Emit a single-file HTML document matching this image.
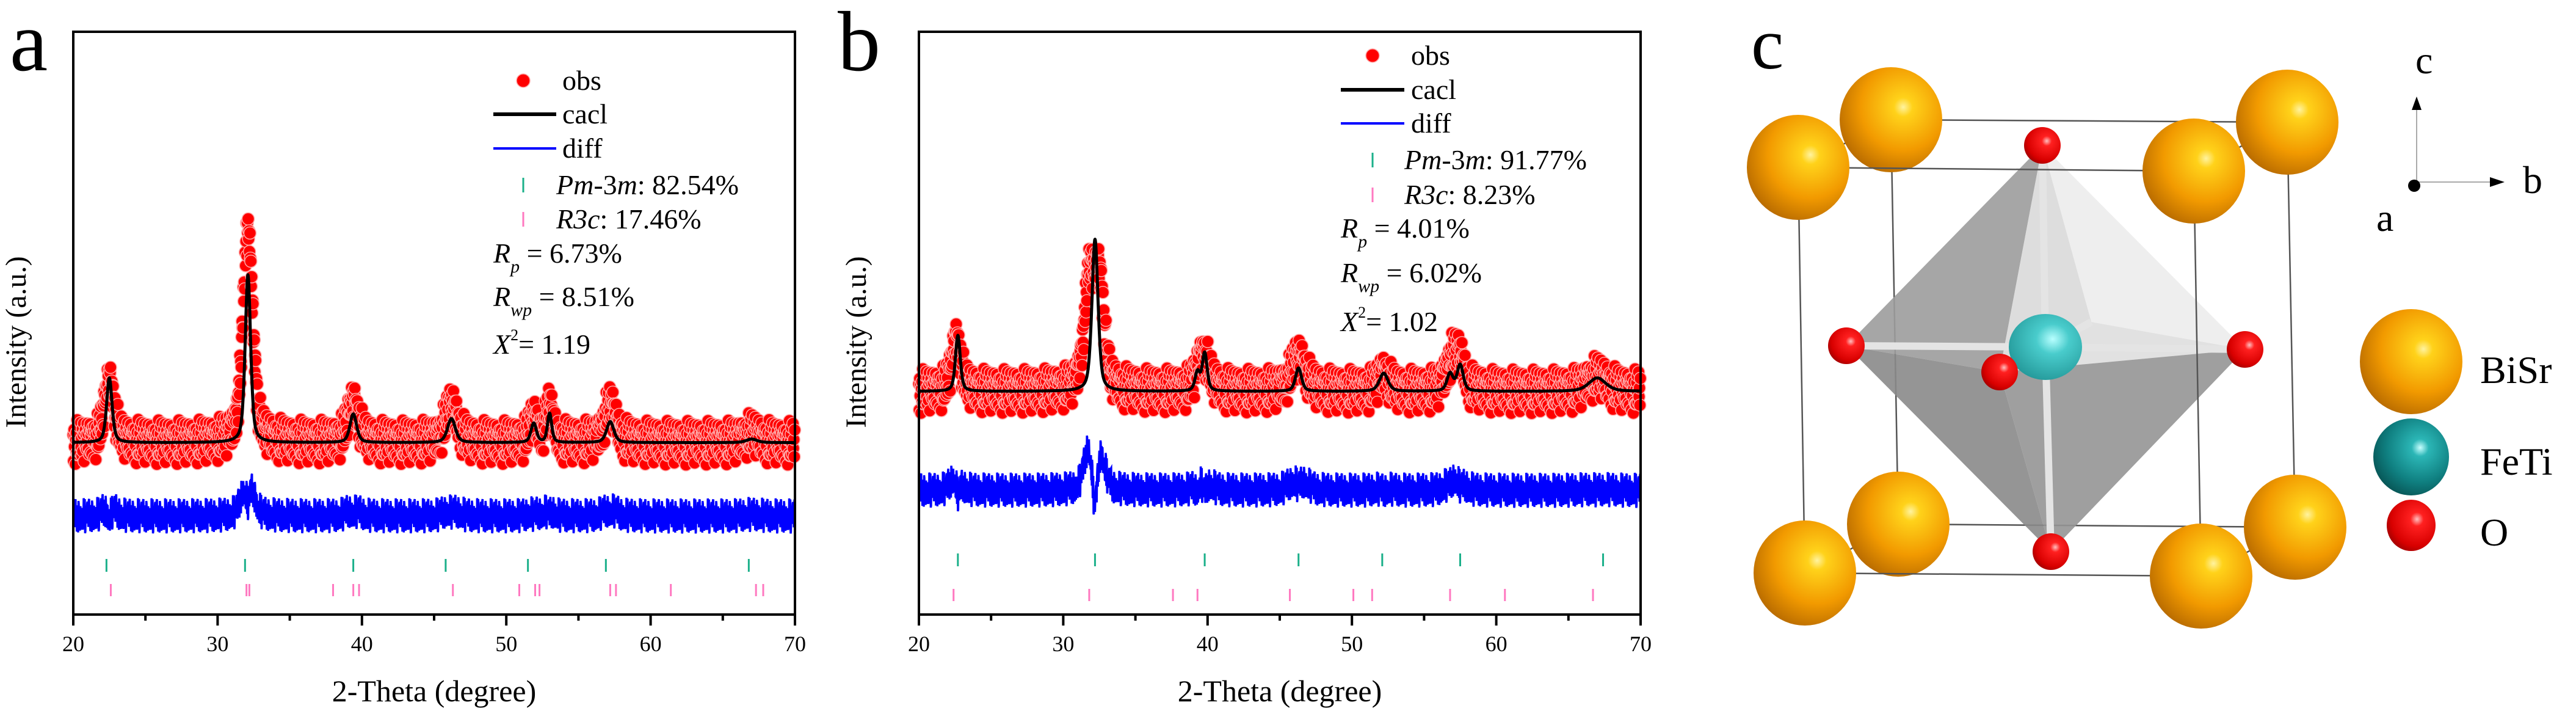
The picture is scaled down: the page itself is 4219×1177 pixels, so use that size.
<!DOCTYPE html>
<html><head><meta charset="utf-8"><style>
html,body{margin:0;padding:0;background:#fff;}
svg, svg text{font-family:"Liberation Serif","Times New Roman","DejaVu Serif",serif;}
</style></head><body>
<svg id="fig" width="4219" height="1172" viewBox="0 0 4219 1172" xmlns="http://www.w3.org/2000/svg" font-family="Liberation Serif, serif">
<defs>
<radialGradient id="gOr" cx="0.62" cy="0.38" r="0.75"><stop offset="0" stop-color="#fff3a0"/><stop offset="0.12" stop-color="#ffd21a"/><stop offset="0.55" stop-color="#f29a00"/><stop offset="1" stop-color="#a85e00"/></radialGradient>
<radialGradient id="gTe" cx="0.62" cy="0.38" r="0.75"><stop offset="0" stop-color="#c8ffff"/><stop offset="0.15" stop-color="#2bb6b6"/><stop offset="0.6" stop-color="#0f7f80"/><stop offset="1" stop-color="#054848"/></radialGradient>
<radialGradient id="gCy" cx="0.6" cy="0.38" r="0.75"><stop offset="0" stop-color="#b8ffff"/><stop offset="0.3" stop-color="#49cccc"/><stop offset="1" stop-color="#1d8f90"/></radialGradient>
<radialGradient id="gRe" cx="0.62" cy="0.38" r="0.75"><stop offset="0" stop-color="#ffc0c0"/><stop offset="0.18" stop-color="#ff2020"/><stop offset="0.7" stop-color="#d80000"/><stop offset="1" stop-color="#8a0000"/></radialGradient>
</defs>
<g id="panelA"></g>
<g id="panelB"></g>
<g id="panelC"></g>
</svg>
<script>
// ---------- data ----------
const xTicks=[20,30,40,50,60,70];
const xMinor=[25,35,45,55,65];
// panel a
const aCalcPos=[22.5,32.1,39.4,46.2,51.9,53.0,57.2,67.0];
const aCalcH=[11.1,28.8,4.9,4.1,3.3,5.0,3.6,0.6];
const aCalcW=[0.45,0.45,0.55,0.65,0.45,0.35,0.6,0.9];
const aObsPos=[22.5,32.1,39.4,46.2,51.9,53.0,57.2,67.0];
const aObsH=[10.5,36.5,6.8,6.3,4.0,6.0,6.3,1.5];
const aObsW=[0.8,0.8,0.9,1.0,0.7,0.6,0.95,1.2];
const aBase=29.5, aDiffBase=16.9;
const aGreen=[22.3,31.9,39.4,45.8,51.5,56.9,66.8];
const aPink=[22.6,32.0,32.2,38.0,39.4,39.8,46.3,50.9,52.0,52.3,57.2,57.6,61.4,67.3,67.8];
// panel b
const bCalcPos=[22.7,32.2,39.3,39.8,46.3,52.2,56.8,57.5,67.0];
const bCalcH=[9.6,26.1,3.2,6.5,4.0,3.1,3.0,4.5,2.3];
const bCalcW=[0.4,0.5,0.4,0.4,0.5,0.7,0.5,0.5,1.4];
const bObsPos=[22.6,31.8,32.5,39.7,46.3,52.2,56.9,57.5,67.0];
const bObsH=[8.8,18,18,6.4,5.8,3.0,5.0,4.6,2.5];
const bObsW=[0.75,0.8,0.8,1.0,1.2,0.9,0.9,0.8,1.6];
const bBase=38.3, bDiffBase=21.3;
const bGreen=[22.7,32.2,39.8,46.3,52.1,57.5,67.4];
const bPink=[22.4,31.8,37.6,39.3,45.7,50.1,51.4,56.8,60.6,66.7,70.0];
const jit=[0.3,-0.8,0.9,-0.2,0.6,-1,0.1,0.7,-0.5,0.95,-0.7,0.2,-0.9,0.5,0.8,-0.3,-0.6,1,-0.1,0.4,-0.85,0.65,-0.4,0.15,0.9,-0.95,0.35,-0.15,0.75,-0.55,0.05,-0.75,0.85,-0.25,0.55,-0.65,0.45,-0.9,0.25,0.7,-0.45,-0.05,0.6,-0.8,0.3,0.95,-0.35];

const NS="http://www.w3.org/2000/svg";
function mk(tag,attrs,parent,text){const e=document.createElementNS(NS,tag);for(const k in attrs)e.setAttribute(k,attrs[k]);if(text!==undefined)e.textContent=text;parent.appendChild(e);return e;}
function pv(x,p,h,w){const d=(x-p)/w;return h*(0.5/(1+4*d*d)+0.5*Math.exp(-2.7726*d*d));}
function prof(x,P,H,W){let s=0;for(let i=0;i<P.length;i++)s+=pv(x,P[i],H[i],W[i]);return s;}

function panel(g,o){
  const X0=o.x0,X1=o.x1,Y0=52,Y1=1006;
  const sx=v=>X0+(v-20)/50*(X1-X0);
  const sy=v=>Y1-v/100*(Y1-Y0);
  const og=mk('g',{},g);
  
  
  let i=0;
  for(let x=20;x<=70.0001;x+=0.03,i++){
    const v=o.base+prof(x,o.oP,o.oH,o.oW)+jit[i%jit.length]*3.0+jit[(i*5)%jit.length]*0.9;
    const c=mk('circle',{cx:sx(x).toFixed(1),cy:sy(v).toFixed(1),r:10,fill:'#f00',stroke:'#ffa8a8','stroke-width':1.5},og);
    
    
  }
  let pts=[];
  for(let x=20;x<=70.0001;x+=0.02)pts.push(sx(x).toFixed(1)+','+sy(o.base+prof(x,o.cP,o.cH,o.cW)).toFixed(1));
  const cl=mk('polyline',{points:pts.join(' '),fill:'none',stroke:'#000','stroke-width':5,'stroke-linejoin':'round'},g);
  
  
  pts=[];i=0;
  for(let x=20;x<=70.0001;x+=0.02,i++){
    const d=prof(x,o.oP,o.oH,o.oW)-prof(x,o.cP,o.cH,o.cW);
    const v=o.dbase+d*o.gain+jit[(i*7)%jit.length]*3.0;
    pts.push(sx(x).toFixed(1)+','+sy(v).toFixed(1));
  }
  const dl=mk('polyline',{points:pts.join(' '),fill:'none',stroke:'#0000ff','stroke-width':3.5},g);
  
  
  o.green.forEach(t=>{const e=mk('line',{x1:sx(t),x2:sx(t),y1:o.gy,y2:o.gy+21,stroke:'#1bb08a','stroke-width':3},g);
    });
  o.pink.forEach(t=>{const e=mk('line',{x1:sx(t),x2:sx(t),y1:o.py,y2:o.py+20,stroke:'#ff78c0','stroke-width':3},g);
    });
  const fr=mk('rect',{x:X0,y:Y0,width:X1-X0,height:Y1-Y0,fill:'none',stroke:'#000','stroke-width':4},g);
  
  xTicks.forEach(t=>{const e=mk('line',{x1:sx(t),x2:sx(t),y1:Y1,y2:Y1+18,stroke:'#000','stroke-width':4},g);
    
    const l=mk('text',{x:sx(t),y:1066,'font-size':36,'text-anchor':'middle'},g,String(t));
    });
  xMinor.forEach(t=>{const e=mk('line',{x1:sx(t),x2:sx(t),y1:Y1,y2:Y1+10,stroke:'#000','stroke-width':4},g);
    });
  const xt=mk('text',{x:(X0+X1)/2,y:1148,'font-size':50,'text-anchor':'middle'},g,'2-Theta (degree)');
  
  const yt=mk('text',{x:0,y:0,'font-size':48,'text-anchor':'middle',transform:`translate(${o.ytx},560) rotate(-90)`},g,'Intensity (a.u.)');
  
  const pl=mk('text',{x:o.lblx,y:115,'font-size':140},g,o.label);
  
  const L=o.leg, lg=mk('g',{'font-size':46},g);
  
  mk('circle',{cx:L.sx,cy:L.y[0],r:11,fill:'#f00',stroke:'#ffa8a8','stroke-width':1.5},lg);
  mk('text',{x:L.tx,y:L.y[0]+15},lg,'obs');
  mk('line',{x1:L.lx0,x2:L.lx1,y1:L.y[1],y2:L.y[1],stroke:'#000','stroke-width':6},lg);
  mk('text',{x:L.tx,y:L.y[1]+15},lg,'cacl');
  mk('line',{x1:L.lx0,x2:L.lx1,y1:L.y[2],y2:L.y[2],stroke:'#0000ff','stroke-width':4},lg);
  mk('text',{x:L.tx,y:L.y[2]+15},lg,'diff');
  mk('line',{x1:L.sx,x2:L.sx,y1:L.y[3]-12,y2:L.y[3]+12,stroke:'#1bb08a','stroke-width':3},lg);
  let t=mk('text',{x:L.px,y:L.y[3]+15},lg);
  mk('tspan',{'font-style':'italic'},t,'Pm');mk('tspan',{},t,'-3');mk('tspan',{'font-style':'italic'},t,'m');mk('tspan',{},t,': '+o.pm);
  mk('line',{x1:L.sx,x2:L.sx,y1:L.y[4]-12,y2:L.y[4]+12,stroke:'#ff78c0','stroke-width':3},lg);
  t=mk('text',{x:L.px,y:L.y[4]+15},lg);
  mk('tspan',{'font-style':'italic'},t,'R3c');mk('tspan',{},t,': '+o.r3);
  t=mk('text',{x:L.lx0,y:L.y[5]+15},lg);
  mk('tspan',{'font-style':'italic'},t,'R');mk('tspan',{'font-style':'italic','font-size':30,dy:16},t,'p');mk('tspan',{dy:-16},t,' = '+o.rp);
  t=mk('text',{x:L.lx0,y:L.y[6]+15},lg);
  mk('tspan',{'font-style':'italic'},t,'R');mk('tspan',{'font-style':'italic','font-size':30,dy:16},t,'wp');mk('tspan',{dy:-16},t,' = '+o.rwp);
  t=mk('text',{x:L.lx0,y:L.y[7]+15},lg);
  mk('tspan',{'font-style':'italic'},t,'X');mk('tspan',{'font-size':26,dy:-22},t,'2');mk('tspan',{dy:22},t,'= '+o.chi);
}

panel(document.getElementById('panelA'),{x0:120,x1:1302,base:aBase,dbase:aDiffBase,gain:0.3,
  cP:aCalcPos,cH:aCalcH,cW:aCalcW,oP:aObsPos,oH:aObsH,oW:aObsW,green:aGreen,pink:aPink,gy:915,py:956,
  ytx:42,lblx:16,label:'a',pm:'82.54%',r3:'17.46%',rp:'6.73%',rwp:'8.51%',chi:'1.19',
  leg:{sx:857,tx:921,px:911,lx0:808,lx1:911,y:[132,187,243,303,359,415,486,564]}});
panel(document.getElementById('panelB'),{x0:1505,x1:2687,base:bBase,dbase:bDiffBase,gain:0.45,
  cP:bCalcPos,cH:bCalcH,cW:bCalcW,oP:bObsPos,oH:bObsH,oW:bObsW,green:bGreen,pink:bPink,gy:906,py:964,
  ytx:1418,lblx:1372,label:'b',pm:'91.77%',r3:'8.23%',rp:'4.01%',rwp:'6.02%',chi:'1.02',
  leg:{sx:2248,tx:2311,px:2300,lx0:2196,lx1:2300,y:[91,147,202,262,319,374,447,527]}});

// ---------- panel c ----------
const C=document.getElementById('panelC');
function named(e,n){return e;}
const fF=[[2945,274],[3593,280],[3605,943],[2956,938]];
const bF=[[3097,196],[3746,200],[3759,863],[3109,858]];
const edge=(a,b,n)=>named(mk('line',{x1:a[0],y1:a[1],x2:b[0],y2:b[1],stroke:'#555','stroke-width':2.5},C),n);
for(let k=0;k<4;k++)edge(bF[k],bF[(k+1)%4],'cell-edge-back');
for(let k=0;k<4;k++)edge(fF[k],bF[k],'cell-edge-side');
const sph=(x,y,rx,ry,f,n)=>named(mk('ellipse',{cx:x,cy:y,rx:rx,ry:ry,fill:f},C),n);
bF.forEach(p=>sph(p[0],p[1],84,86,'url(#gOr)','bisr-atom'));
const T=[3345,238],B=[3359,903],Lf=[3024,566],R=[3677,572],F=[3275,609],K=[3425,527],Z=[3350,568];
const face=(ps,c,n)=>named(mk('polygon',{points:ps.map(p=>p.join(',')).join(' '),fill:c,'fill-opacity':0.9},C),n);
face([T,K,R],'#ececec','octahedron-face');
face([T,Lf,F],'#9c9c9c','octahedron-face');
face([T,F,K],'#cfcfcf','octahedron-face');
face([T,K,R,F],'#dedede','octahedron-face');
face([Lf,F,B],'#8a8a8a','octahedron-face');
face([F,R,B],'#959595','octahedron-face');
[T,B,Lf,R,K,F].forEach(p=>named(mk('line',{x1:Z[0],y1:Z[1],x2:p[0],y2:p[1],stroke:'#e4e4e4','stroke-width':12},C),'fe-o-bond'));
sph(Z[0],Z[1],60,54,'url(#gCy)','feti-atom');
[T,B,Lf,R,F].forEach(p=>sph(p[0],p[1],30,30,'url(#gRe)','oxygen-atom'));
for(let k=0;k<4;k++)edge(fF[k],fF[(k+1)%4],'cell-edge-front');
fF.forEach(p=>sph(p[0],p[1],84,86,'url(#gOr)','bisr-atom'));
named(mk('text',{x:2868,y:112,'font-size':120},C,'c'),'panel-label');
const ax=mk('g',{},C);named(ax,'axis-indicator');
mk('line',{x1:3958,y1:298,x2:3958,y2:178,stroke:'#aaa','stroke-width':2},ax);
mk('polygon',{points:'3950,180 3966,180 3958,158',fill:'#000'},ax);
mk('line',{x1:3958,y1:298,x2:4080,y2:298,stroke:'#aaa','stroke-width':2},ax);
mk('polygon',{points:'4078,290 4078,306 4102,298',fill:'#000'},ax);
mk('circle',{cx:3954,cy:304,r:10,fill:'#000'},ax);
mk('text',{x:3956,y:120,'font-size':64},ax,'c');
mk('text',{x:4132,y:316,'font-size':64},ax,'b');
mk('text',{x:3892,y:378,'font-size':64},ax,'a');
sph(3949,592,84,86,'url(#gOr)','legend-bisr-swatch');
sph(3949,748,62,63,'url(#gTe)','legend-feti-swatch');
sph(3949,860,40,42,'url(#gRe)','legend-o-swatch');
named(mk('text',{x:4062,y:627,'font-size':64},C,'BiSr'),'legend-bisr-label');
named(mk('text',{x:4062,y:777,'font-size':64},C,'FeTi'),'legend-feti-label');
named(mk('text',{x:4062,y:893,'font-size':64},C,'O'),'legend-o-label');
</script>
</body></html>
